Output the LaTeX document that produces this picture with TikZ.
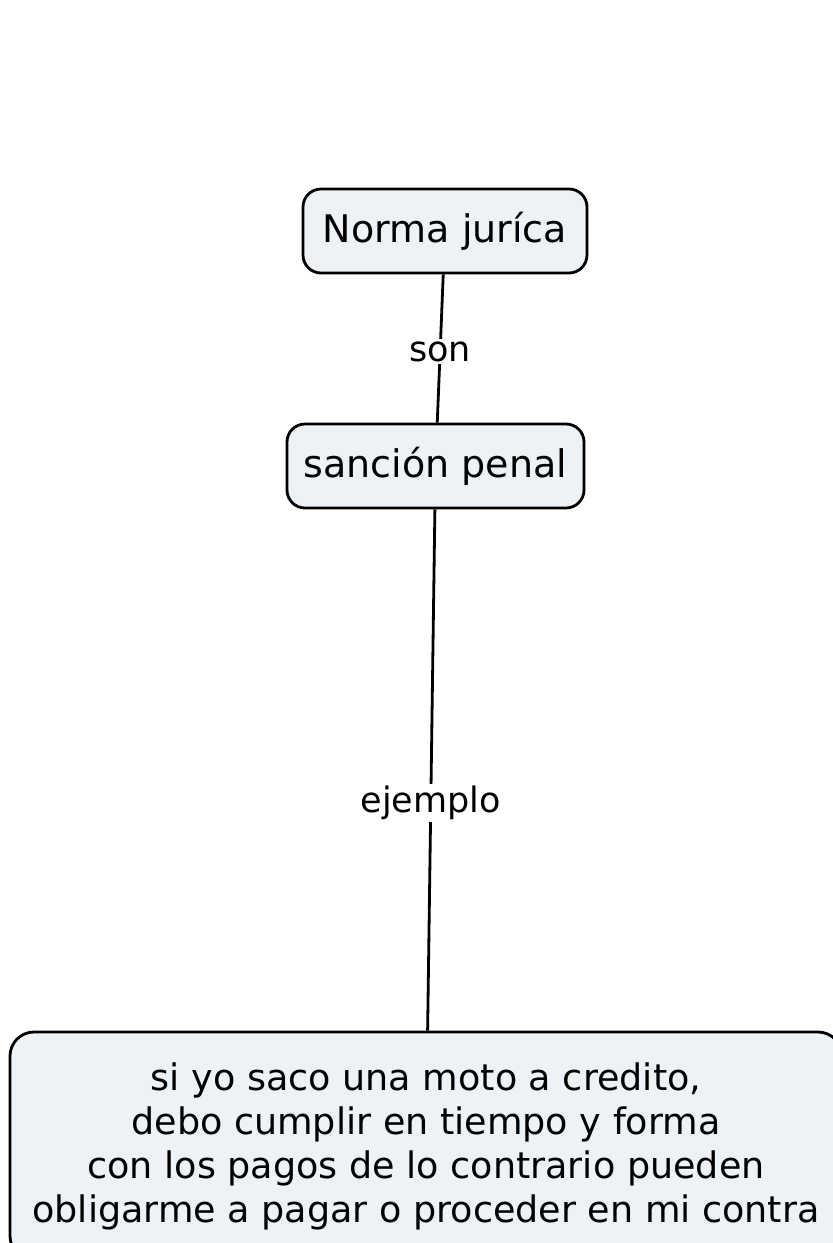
\documentclass[tikz,border=0pt]{standalone}
\usepackage{fontspec}
\setmainfont{DejaVu Sans}
\usetikzlibrary{positioning}
\definecolor{fondo}{RGB}{236,242,245}
\tikzset{
  concepto/.style={draw=black, line width=2.8pt, fill=fondo, rounded corners=18pt,
    align=center, inner sep=0pt, minimum height=84pt,
    font=\fontsize{38}{44}\selectfont},
  enlace/.style={fill=white, inner sep=2pt, font=\fontsize{35}{42}\selectfont},
  linea/.style={line width=2.8pt}
}

\begin{document}
\begin{tikzpicture}[x=1pt,y=-1pt]
	%%%%% conceptos %%%%%
	\useasboundingbox (0,0) rectangle (833,1243);
	
	\node[concepto, minimum width=284pt] (norma) at (445,231) {Norma juríca};
	\node[concepto, minimum width=297pt] (sancion) at (435.5,466) {sanción penal};
	\node[concepto, minimum width=832pt, minimum height=228pt, rounded corners=24pt,
		font=\fontsize{36.5}{44}\selectfont] (moto) at (426,1146)
		{si yo saco una moto a credito,\\debo cumplir en tiempo y forma\\con los pagos de lo contrario pueden\\obligarme a pagar o proceder en mi contra};
	
	%%%%% enlaces %%%%%
	\draw[linea] (norma) -- node[enlace, pos=0.52] (son) {son} (sancion);
	\draw[linea] (sancion) -- node[enlace, pos=0.563] (ejemplo) {ejemplo} (moto);
\end{tikzpicture}
\end{document}
